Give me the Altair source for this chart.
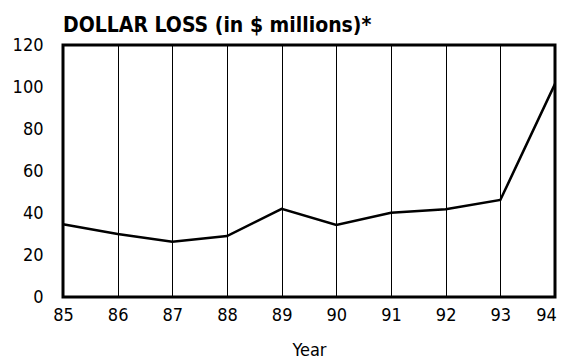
import altair as alt
import pandas as pd

years = [85, 86, 87, 88, 89, 90, 91, 92, 93, 94]
loss = [34.6, 30.0, 26.3, 29.0, 42.0, 34.3, 40.1, 41.8, 46.2, 101.5]
y_ticks = [0, 20, 40, 60, 80, 100, 120]

df = pd.DataFrame({"year": years, "loss": loss})
FONT = "DejaVu Sans Condensed, Liberation Sans, sans-serif"

chart = alt.Chart(df).mark_line(color="black", strokeWidth=2.5).encode(
    x=alt.X("year:Q", title="Year",
            scale=alt.Scale(domain=[85, 94], nice=False, zero=False),
            axis=alt.Axis(values=years, format="d", grid=True, gridColor="black",
                          gridOpacity=1, gridWidth=1, ticks=False, domain=False,
                          labelFlush=False, labelOverlap=False,
                          labelOffset=alt.ExprRef("datum.value == 94 ? -9 : 0"),
                          labelPadding=9, labelFontSize=18, labelColor="black",
                          titleFontSize=18, titleFontWeight="normal", titleColor="black",
                          titlePadding=17, labelFont=FONT, titleFont=FONT)),
    y=alt.Y("loss:Q", title=None,
            scale=alt.Scale(domain=[0, 120], nice=False),
            axis=alt.Axis(values=y_ticks, grid=False, ticks=False, domain=False,
                          labelPadding=20, labelFontSize=18, labelColor="black",
                          labelFont=FONT)),
).properties(
    width=492, height=252,
    title=alt.TitleParams("DOLLAR LOSS (in $ millions)*", anchor="start", frame="group",
                          fontSize=21, fontWeight="bold", font=FONT, color="black",
                          offset=0),
    autosize=alt.AutoSizeParams(type="none"),
    padding={"left": 55, "top": 37, "right": 2, "bottom": 62},
).configure_view(stroke="black", strokeWidth=3)

chart.save("out.html", embed_options={"renderer": "svg", "actions": False})
